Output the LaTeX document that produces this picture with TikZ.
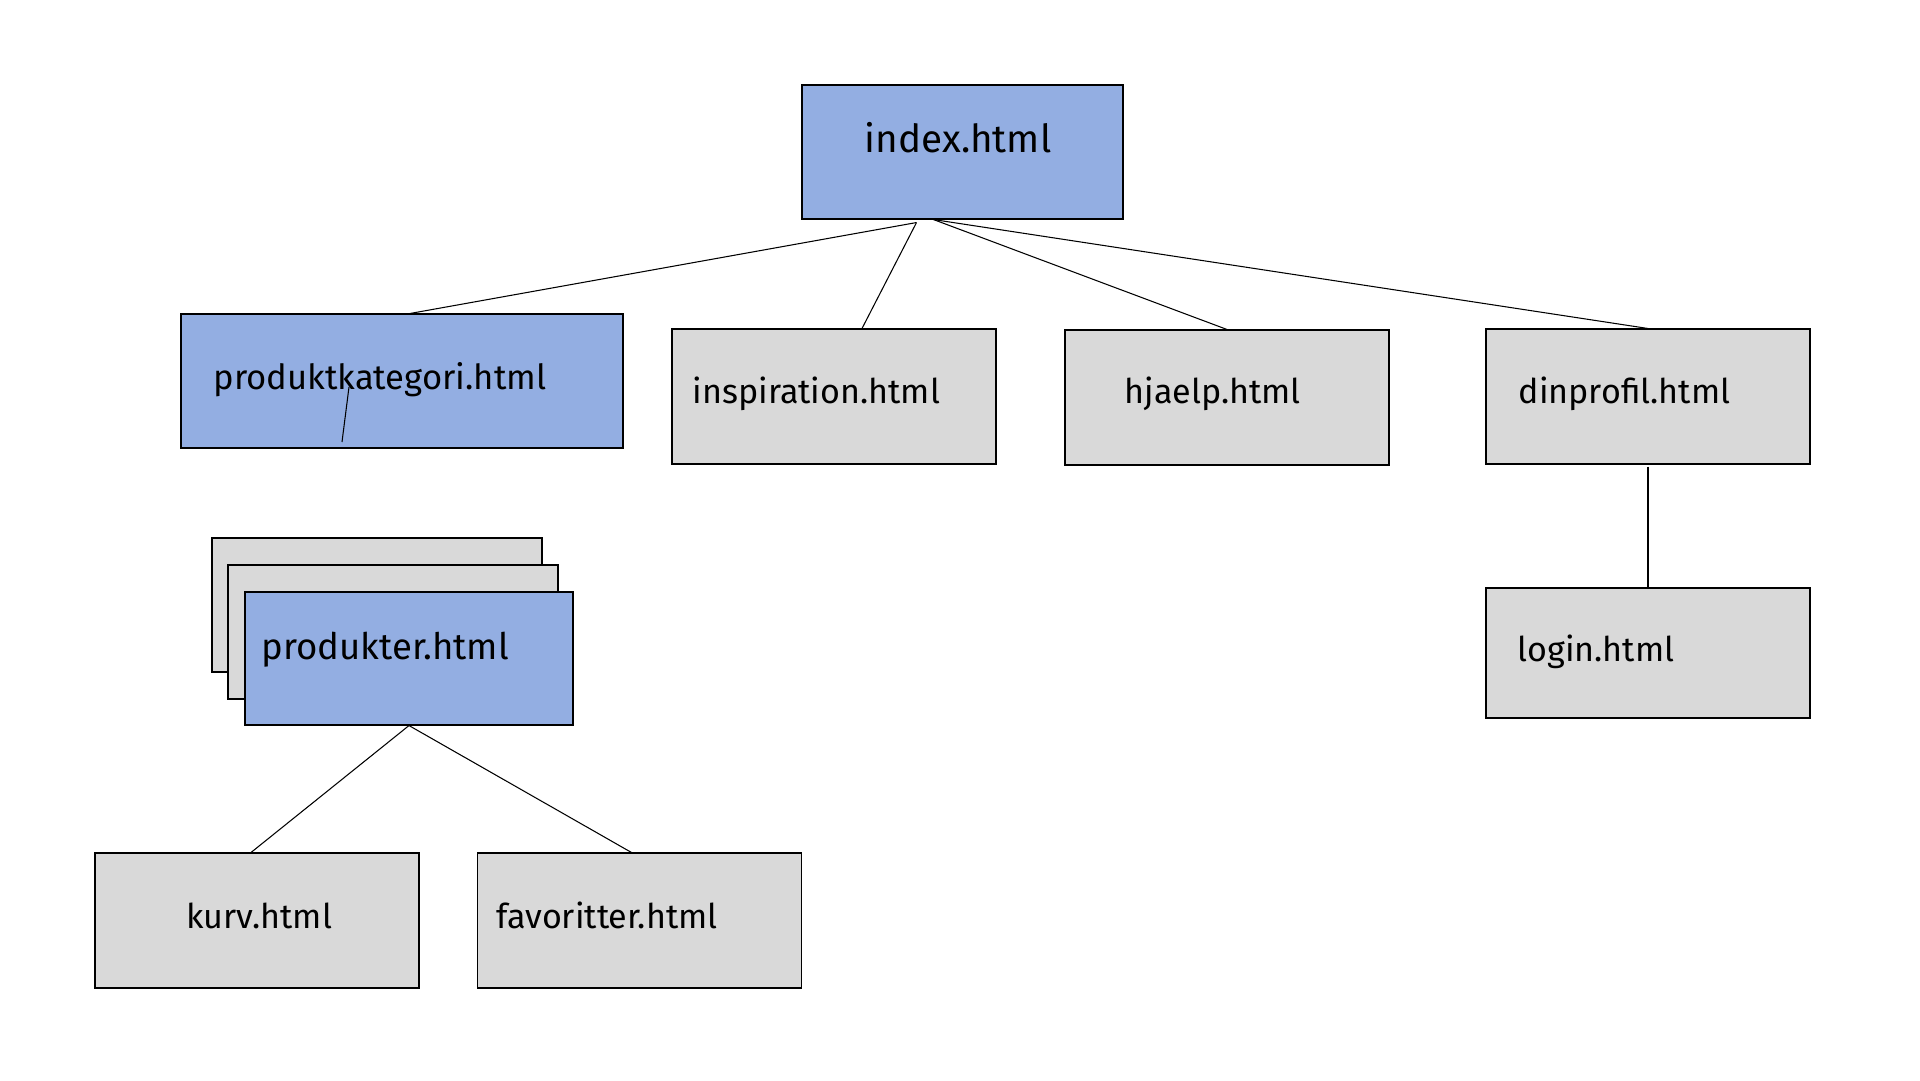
\documentclass[tikz,border=0pt]{standalone}
\usepackage{fontspec}
\setmainfont{Fira Sans}
\usetikzlibrary{calc}
\definecolor{pageblue}{HTML}{93AEE2}
\definecolor{pagegrey}{HTML}{D9D9D9}
\begin{document}
\begin{tikzpicture}
	[x=0.1mm,y=-0.1mm,
	page/.style={draw=black,line width=0.3pt,rectangle,inner sep=0pt,
		minimum width=32.4mm,minimum height=13.5mm},
	blue/.style={page,fill=pageblue},
	grey/.style={page,fill=pagegrey},
	lbl/.style={anchor=base west,inner sep=0pt,font=\fontsize{9.7}{11}\selectfont},
	link/.style={line width=0.3pt}
	]
	\useasboundingbox (0,0) rectangle (1920,1080);
	% top level
	\node[blue,minimum width=32.1mm,minimum height=13.4mm] (index) at (962.5,152) {};
	\node[lbl,font=\fontsize{11}{13}\selectfont] (index-t) at (864,152) {index.html};
	% second level
	\node[blue,minimum width=44.2mm,minimum height=13.4mm] (kategori) at (402,381) {};
	\node[lbl,font=\fontsize{9.85}{11}\selectfont] (kategori-t) at (213,389) {produktkategori.html};
	\node[grey] (inspiration) at (834,396.5) {};
	\node[lbl] (inspiration-t) at (692,403) {inspiration.html};
	\node[grey] (hjaelp) at (1227,397.5) {};
	\node[lbl] (hjaelp-t) at (1124,403) {hjaelp.html};
	\node[grey] (profil) at (1648,396.5) {};
	\node[lbl] (profil-t) at (1518,403) {dinprofil.html};
	\node[grey,minimum height=13mm] (login) at (1648,653) {};
	\node[lbl] (login-t) at (1517,661) {login.html};
	% stacked product pages
	\node[grey,minimum width=33mm,minimum height=13.4mm] (stack1) at (377,605) {};
	\node[grey,minimum width=33mm,minimum height=13.4mm] (stack2) at (393,632) {};
	\node[blue,minimum width=32.8mm,minimum height=13.3mm] (produkter) at (409,658.5) {};
	\node[lbl,font=\fontsize{10.4}{12}\selectfont] (produkter-t) at (261,659) {produkter.html};
	% bottom level
	\node[grey] (kurv) at (257,920.5) {};
	\node[lbl] (kurv-t) at (186,928) {kurv.html};
	\node[grey] (favoritter) at (639.5,920.5) {};
	\node[lbl] (favoritter-t) at (496,928) {favoritter.html};
	% connectors
	\coordinate (idxA) at ($(index.south)+(-46,3)$);
	\coordinate (idxB) at ($(index.south)+(-29,0)$);
	\draw[link] (idxA) -- ($(kategori.north)+(8,0)$);
	\draw[link] (idxA) -- ($(inspiration.north)+(28,0)$);
	\draw[link] (idxB) -- (hjaelp.north);
	\draw[link] (idxB) -- (profil.north);
	\draw[link] ($(profil.south)+(0,2)$) -- (login.north);
	\draw[link] ($(kategori.center)+(-53,6)$) -- ($(kategori.center)+(-60,61)$);
	\draw[link] (produkter.south) -- ($(kurv.north)+(-6,0)$);
	\draw[link] (produkter.south) -- ($(favoritter.north)+(-8,0)$);
\end{tikzpicture}
\end{document}
